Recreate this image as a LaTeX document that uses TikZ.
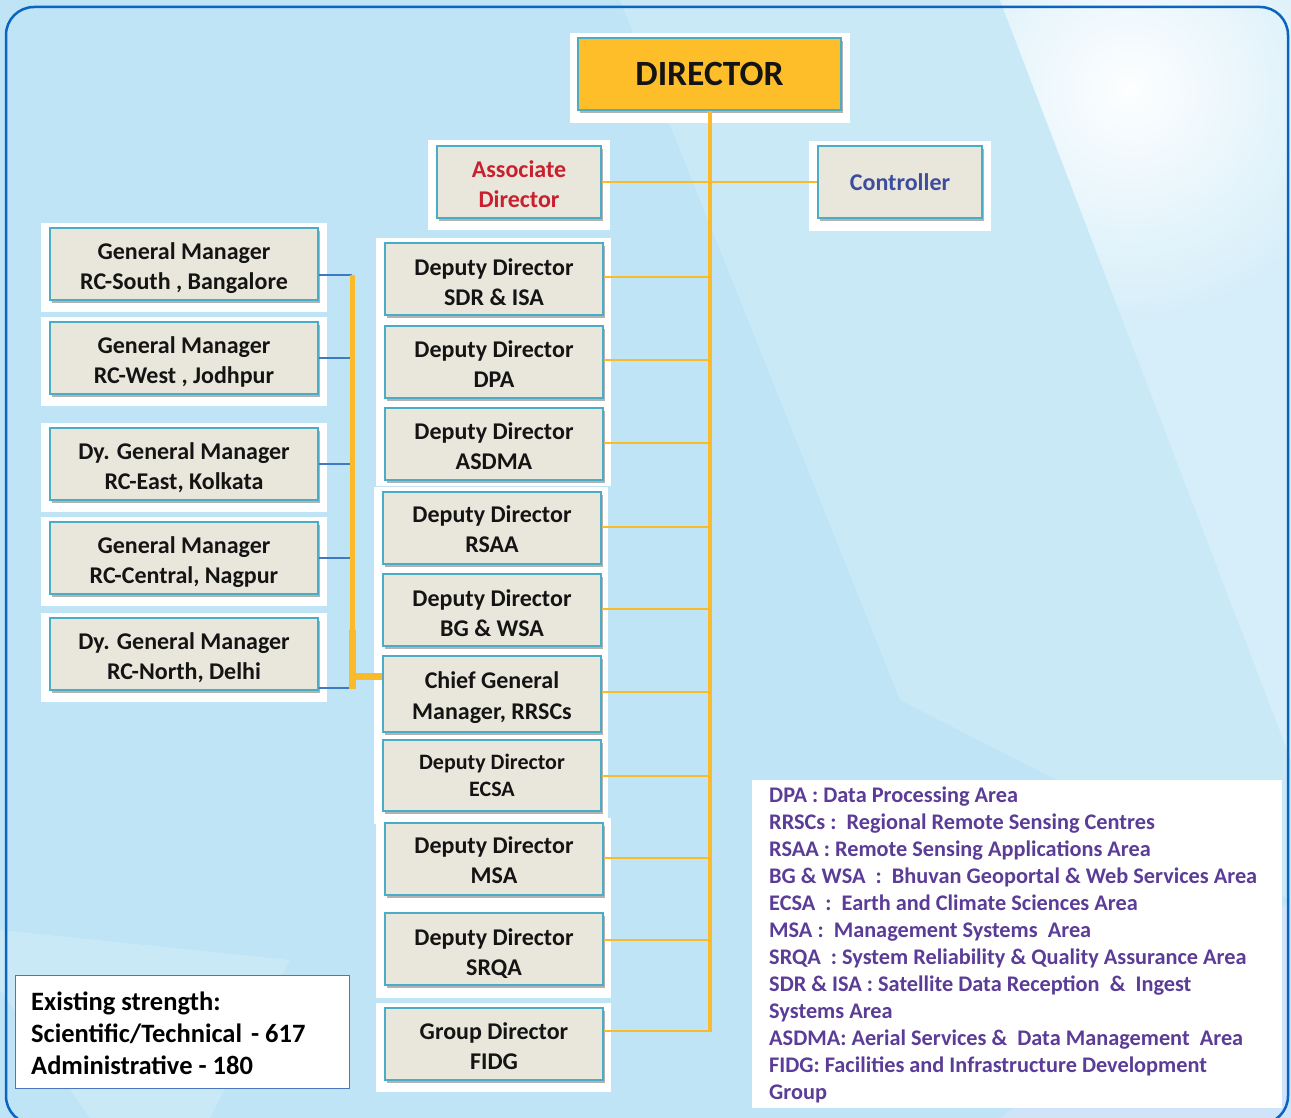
\documentclass[tikz,border=0pt]{standalone}
\usepackage{fontspec}
\setmainfont{Carlito}
\usetikzlibrary{shadows,calc}
\definecolor{bgblue}{HTML}{BFE4F5}
\definecolor{bglight}{HTML}{D6EEF9}
\definecolor{frame}{HTML}{0A64C0}
\definecolor{boxfill}{HTML}{E9E7DB}
\definecolor{boxborder}{HTML}{4BACC6}
\definecolor{gold}{HTML}{FDBE2A}
\definecolor{conn}{HTML}{FBBA2A}
\definecolor{assocred}{HTML}{C8202F}
\definecolor{ctrlblue}{HTML}{3E4C9E}
\definecolor{legpurple}{HTML}{5B3C97}
\definecolor{leftblue}{HTML}{3F7AC0}
\definecolor{strborder}{HTML}{4A77C0}
% two centred lines; first baseline raised #1 above the node centre
\newcommand\twolines[3]{\raisebox{#1}[0pt][0pt]{\vtop{\halign{\hfil##\hfil\cr #2\cr #3\cr}}}}
\tikzset{
  backing/.style={fill=white, draw=none},
  bx/.style={draw=boxborder, line width=1.6pt, fill=boxfill, inner sep=0pt,
    text=black!92, font=\fontsize{24}{30}\selectfont\bfseries,
    drop shadow={shadow xshift=2pt, shadow yshift=-3pt, fill=black, opacity=0.3}},
  midbox/.style={bx, minimum width=218pt, minimum height=72pt},
  leftbox/.style={bx, minimum width=268pt, minimum height=72pt},
  trunk/.style={draw=conn, line width=4pt},
  branch/.style={draw=conn, line width=2pt},
  busline/.style={draw=conn, line width=5pt},
  blueline/.style={draw=leftblue, line width=2pt},
}
\begin{document}
\begin{tikzpicture}[x=1pt,y=-1pt]
\useasboundingbox (0,0) rectangle (1291,1118);
% background
\begin{scope}
\clip (0,0) rectangle (1291,1118);
\fill[bgblue] (0,0) rectangle (1291,1118);
\fill[bglight!45!bgblue] (620,0) -- (1000,0) -- (1291,520) -- (1291,900) -- (900,700) -- cycle;
\fill[bglight] (1000,0) -- (1291,0) -- (1291,760) -- cycle;
\begin{scope}
\clip (1000,0) -- (1291,0) -- (1291,760) -- cycle;
\shade[inner color=white!95!bglight, outer color=bglight] (1130,90) circle (230);
\end{scope}
\fill[bglight!50!bgblue] (0,990) -- (90,1118) -- (210,1118) -- (290,960) -- (0,930) -- cycle;
\fill[bgblue!92!blue!60!white] (1000,1118) -- (1291,900) -- (1291,1118) -- cycle;
\draw[frame, line width=2.5pt, rounded corners=28pt] (6,7) rectangle (1288,1124);
\end{scope}

% white backings
\fill[backing] (570,33) rectangle (850,123);
\fill[backing] (428,140) rectangle (610,230);
\fill[backing] (809,141) rectangle (991,231);
\fill[backing] (41,223) rectangle (327,312);
\fill[backing] (41,317) rectangle (327,406);
\fill[backing] (41,423) rectangle (327,512);
\fill[backing] (41,517) rectangle (327,606);
\fill[backing] (41,613) rectangle (327,702);
\fill[backing] (376,238) rectangle (611,486);
\fill[backing] (374,487) rectangle (608,824);
\fill[backing] (376,818) rectangle (611,998);
\fill[backing] (376,1003) rectangle (611,1092);

% nodes
\node[bx, fill=gold, minimum width=263pt, minimum height=72pt,
      font=\fontsize{35.5}{40}\selectfont\bfseries] (dir) at (709.5,74) {DIRECTOR};
\node[bx, minimum width=164pt, minimum height=72pt, text=assocred] (assoc) at (519,182) {\twolines{4.3pt}{Associate}{Director}};
\node[bx, minimum width=164pt, minimum height=72pt, text=ctrlblue] (ctrl) at (900,182) {Controller};

\node[leftbox] (gms) at (184,264) {\twolines{4.3pt}{General Manager}{RC-South , Bangalore}};
\node[leftbox] (gmw) at (184,358) {\twolines{4.3pt}{General Manager}{RC-West , Jodhpur}};
\node[leftbox] (gme) at (184,464) {\twolines{4.3pt}{Dy. General Manager}{RC-East, Kolkata}};
\node[leftbox] (gmc) at (184,558) {\twolines{4.3pt}{General Manager}{RC-Central, Nagpur}};
\node[leftbox] (gmn) at (184,654) {\twolines{4.3pt}{Dy. General Manager}{RC-North, Delhi}};

\node[midbox, font=\fontsize{24}{29.5}\selectfont\bfseries] (sdr) at (494,279) {\twolines{3.3pt}{Deputy Director}{SDR \& ISA}};
\node[midbox, font=\fontsize{24}{29.5}\selectfont\bfseries] (dpa) at (494,362) {\twolines{4.3pt}{Deputy Director}{DPA}};
\node[midbox, font=\fontsize{24}{29.5}\selectfont\bfseries] (asdma) at (494,444) {\twolines{4.3pt}{Deputy Director}{ASDMA}};
\node[midbox, font=\fontsize{24}{29.5}\selectfont\bfseries] (rsaa) at (492,528) {\twolines{5.3pt}{Deputy Director}{RSAA}};
\node[midbox, font=\fontsize{24}{29.5}\selectfont\bfseries] (bgwsa) at (492,610) {\twolines{3.3pt}{Deputy Director}{BG \& WSA}};
\node[midbox, minimum height=76pt, font=\fontsize{24}{31}\selectfont\bfseries] (cgm) at (492,694) {\twolines{5.3pt}{Chief General}{Manager, RRSCs}};
\node[midbox, minimum height=71pt, font=\fontsize{22}{27}\selectfont\bfseries] (ecsa) at (492,775.5) {\twolines{6.4pt}{Deputy Director}{ECSA}};
\node[midbox, font=\fontsize{24}{29.5}\selectfont\bfseries] (msa) at (494,859) {\twolines{5.3pt}{Deputy Director}{MSA}};
\node[midbox, font=\fontsize{24}{29.5}\selectfont\bfseries] (srqa) at (494,949) {\twolines{3.3pt}{Deputy Director}{SRQA}};
\node[midbox, font=\fontsize{24}{29.5}\selectfont\bfseries] (fidg) at (494,1044) {\twolines{4.3pt}{Group Director}{FIDG}};

% connectors: director trunk
\coordinate (trunkend) at (dir.south |- 0,1031);
\draw[branch] (assoc.east) -- (ctrl.west);
\draw[branch] (sdr.east |- 0,277) -- (dir.south |- 0,277);
\draw[branch] (dpa.east |- 0,360) -- (dir.south |- 0,360);
\draw[branch] (asdma.east |- 0,443) -- (dir.south |- 0,443);
\draw[branch] (rsaa.east |- 0,527) -- (dir.south |- 0,527);
\draw[branch] (bgwsa.east |- 0,609) -- (dir.south |- 0,609);
\draw[branch] (cgm.east |- 0,692) -- (dir.south |- 0,692);
\draw[branch] (ecsa.east) -- (dir.south |- ecsa.east);
\draw[branch] (msa.east |- 0,858) -- (dir.south |- 0,858);
\draw[branch] (srqa.east |- 0,940) -- (dir.south |- 0,940);
\draw[branch] (fidg.east |- 0,1031) -- (trunkend);
\draw[trunk] (dir.south) -- ([yshift=-1pt]trunkend);

% left bus
\coordinate (bustop) at (352,275);
\coordinate (busbot) at (352,689);
\draw[blueline] ([yshift=-11pt]gms.east) -- ([yshift=-11pt]gms.east -| bustop);
\draw[blueline] (gmw.east) -- (gmw.east -| bustop);
\draw[blueline] (gme.east) -- (gme.east -| bustop);
\draw[blueline] (gmc.east) -- (gmc.east -| bustop);
\draw[blueline] ([yshift=-34pt]gmn.east) -- ([yshift=-34pt]gmn.east -| bustop);
\draw[busline] (bustop) -- (busbot);
\draw[draw=conn, line width=7pt] (352,630) -- (busbot);
\draw[draw=conn, line width=7pt] (352,676) -- ([yshift=18pt]cgm.west);

% legend
\fill[white] (752,780) rectangle (1282,1108);
\node[anchor=north west, inner sep=0pt, align=left, text=legpurple,
      font=\fontsize{22.3}{27}\selectfont\bfseries] (legend) at (769,787) {%
DPA : Data Processing Area\\
RRSCs :\ \ Regional Remote Sensing Centres\\
RSAA : Remote Sensing Applications Area\\
BG \& WSA\ \ :\ \ Bhuvan Geoportal \& Web Services Area\\
ECSA\ \ :\ \ Earth and Climate Sciences Area\\
MSA :\ \ Management Systems\ \ Area\\
SRQA\ \ : System Reliability \& Quality Assurance Area\\
SDR \& ISA : Satellite Data Reception\ \ \&\ \ Ingest\\
Systems Area\\
ASDMA: Aerial Services \&\ \ Data Management\ \ Area\\
FIDG: Facilities and Infrastructure Development\\
Group};

% strength box
\node[draw=strborder, line width=1.2pt, fill=white, anchor=north west, inner sep=0pt,
      minimum width=334pt, minimum height=113pt] (strbox) at (15,975) {};
\node[anchor=north west, inner sep=0pt, align=left, text=black,
      font=\fontsize{26.5}{32}\selectfont\bfseries] (strength) at (31,992) {%
Existing strength:\\
Scientific/Technical\hspace{9pt}- 617\\
Administrative - 180};
\end{tikzpicture}
\end{document}
